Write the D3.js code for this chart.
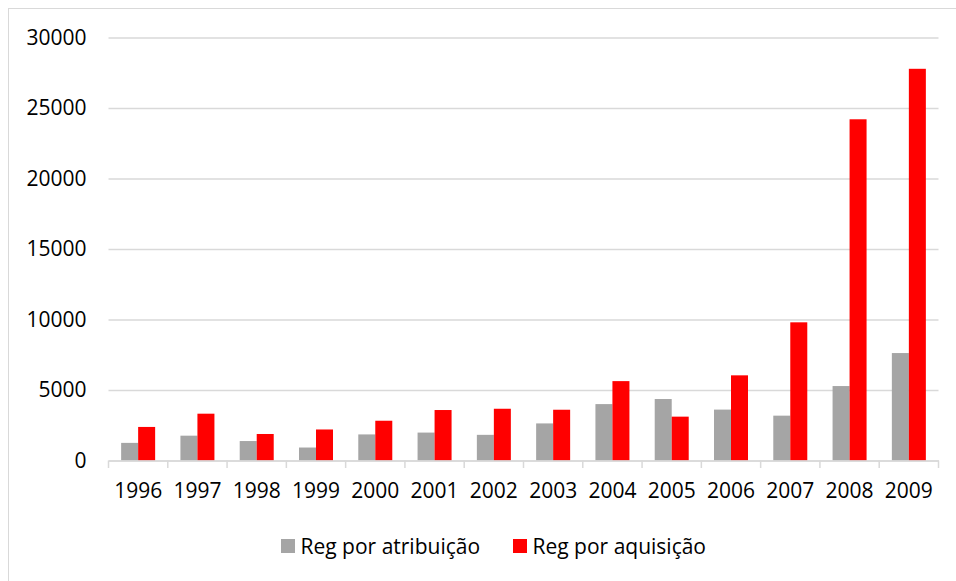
<!DOCTYPE html>
<html>
<head>
<meta charset="utf-8">
<script src="https://cdn.jsdelivr.net/npm/d3@7"></script>
<style>
  body { margin: 0; background: #fff; }
  text { font-family: "Open Sans", sans-serif; fill: #000; }
</style>
</head>
<body>
<svg class="chart"></svg>
<script>
// data
const years = ['1996', '1997', '1998', '1999', '2000', '2001', '2002', '2003', '2004', '2005', '2006', '2007', '2008', '2009']
const atribuicao = [1250, 1760, 1380, 920, 1850, 1980, 1820, 2630, 4000, 4360, 3610, 3180, 5280, 7620]
const aquisicao = [2380, 3320, 1880, 2200, 2820, 3580, 3670, 3600, 5630, 3110, 6040, 9800, 24200, 27780]
const seriesNames = ['Reg por atribuição', 'Reg por aquisição']
const seriesColors = ['#a5a5a5', '#ff0000']
const yTicks = [0, 5000, 10000, 15000, 20000, 25000, 30000]

const totalWidth = 956, totalHeight = 581
const plot = { left: 108.5, right: 938.5, top: 37.5, bottom: 460.5 }
const gridColor = '#d9d9d9'

const svg = d3.select('.chart')
  .attr('width', totalWidth)
  .attr('height', totalHeight)

// chart frame (right / bottom edges fall outside the picture)
svg.append('rect')
  .attr('x', 8.5).attr('y', 8.5)
  .attr('width', 990).attr('height', 600)
  .attr('fill', '#fff')
  .attr('stroke', gridColor)

const x = d3.scaleBand()
  .domain(years)
  .range([plot.left, plot.right])

const y = d3.scaleLinear()
  .domain([0, 30000])
  .range([plot.bottom, plot.top])

// y axis with gridlines
const yAxis = d3.axisLeft(y)
  .tickValues(yTicks)
  .tickSize(-(plot.right - plot.left))
  .tickPadding(22)
  .tickFormat(d3.format('d'))

const gy = svg.append('g')
  .attr('transform', 'translate(' + plot.left + ',0)')
  .call(yAxis)
gy.select('.domain').remove()
gy.selectAll('line')
  .attr('stroke', gridColor)
  .attr('stroke-width', 1.3)
gy.selectAll('text')
  .style('font-size', '21px')
  .attr('font-family', null)

// bars
const barW = 17
const groups = svg.selectAll('.year')
  .data(years)
  .enter()
  .append('g')
  .attr('class', 'year')
  .attr('transform', d => 'translate(' + x(d) + ',0)')

const offset = (x.bandwidth() - 2 * barW) / 2
const both = [atribuicao, aquisicao]
both.forEach((vals, s) => {
  groups.append('rect')
    .attr('x', offset + s * barW)
    .attr('width', barW)
    .attr('y', (d, i) => y(vals[i]))
    .attr('height', (d, i) => y(0) - y(vals[i]))
    .attr('fill', seriesColors[s])
})

// x axis: labels from axisBottom, boundary ticks from the band scale
const xAxis = d3.axisBottom(x)
  .tickSize(0)
  .tickPadding(23)
const gx = svg.append('g')
  .attr('transform', 'translate(0,' + plot.bottom + ')')
  .call(xAxis)
gx.select('.domain')
  .attr('stroke', gridColor)
  .attr('stroke-width', 1.5)
gx.selectAll('text')
  .style('font-size', '21px')
  .attr('font-family', null)

const bounds = years.map(d => x(d)).concat([x(years[years.length - 1]) + x.step()])
gx.selectAll('.bound')
  .data(bounds)
  .enter()
  .append('line')
  .attr('class', 'bound')
  .attr('x1', d => d).attr('x2', d => d)
  .attr('y1', 0).attr('y2', 7.5)
  .attr('stroke', gridColor)
  .attr('stroke-width', 1.5)

// legend
const legendX = [281, 513]
const legend = svg.selectAll('.legend')
  .data(seriesNames)
  .enter()
  .append('g')
  .attr('class', 'legend')
  .attr('transform', (d, i) => 'translate(' + legendX[i] + ',539)')

legend.append('rect')
  .attr('width', 14)
  .attr('height', 14)
  .attr('fill', (d, i) => seriesColors[i])

legend.append('text')
  .attr('x', 19.5)
  .attr('y', 14.5)
  .style('font-size', '21px')
  .text(d => d)
</script>
</body>
</html>
